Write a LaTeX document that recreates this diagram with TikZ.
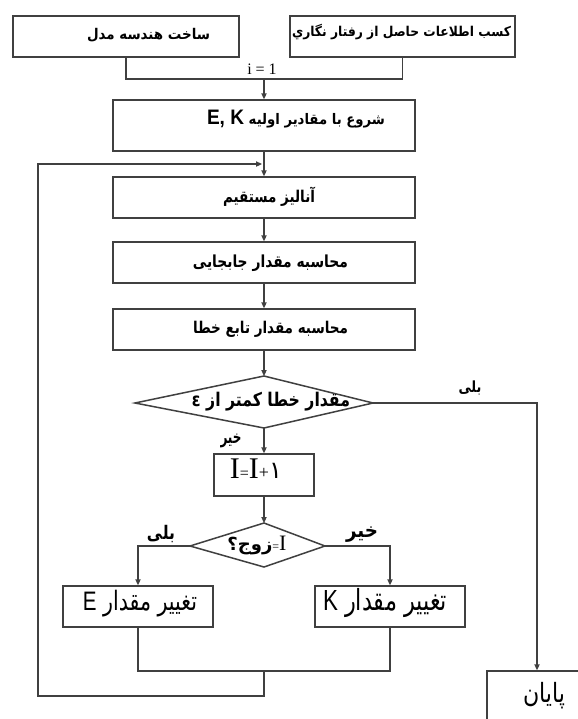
\documentclass[tikz,border=0pt]{standalone}
\usepackage{fontspec}
\usepackage{graphicx}
\setmainfont{Liberation Serif}
\newfontfamily\arabicfont[Script=Arabic]{DejaVu Sans}
\newfontfamily\lsans{Liberation Sans}
\TeXXeTstate=1
\usetikzlibrary{arrows.meta}
\newcommand{\txs}[3]{\scalebox{1}[#2]{\resizebox{#1}{!}{#3}}}
\begin{document}
\begin{tikzpicture}[x=0.5pt,y=-0.5pt,
  ln/.style={draw=black!75, line width=0.75pt},
  arr/.style={ln, -{Triangle[length=3pt,width=2.6pt]}},
  box/.style={ln, rectangle, inner sep=0pt, fill=white},
  txt/.style={inner sep=0pt, text=black, anchor=base}]
\useasboundingbox (0,0) rectangle (578,719);
\fill[white] (0,0) rectangle (578,719);
% boxes
\node[box, minimum width=113pt, minimum height=20.5pt] (b1) at (126,36.5) {};
\node[box, minimum width=112.5pt, minimum height=20.5pt] (b2) at (402.5,36.5) {};
\node[box, minimum width=151pt, minimum height=25.5pt] (st) at (264,125.5) {};
\node[box, minimum width=151pt, minimum height=20.5pt] (an) at (264,197.5) {};
\node[box, minimum width=151pt, minimum height=20.5pt] (jb) at (264,262.5) {};
\node[box, minimum width=151pt, minimum height=20.5pt] (er) at (264,329.5) {};
\node[box, minimum width=50pt, minimum height=21pt] (inc) at (264,475) {};
\node[box, minimum width=75pt, minimum height=20.5pt] (eb) at (138,606.5) {};
\node[box, minimum width=75pt, minimum height=20.5pt] (kb) at (390,606.5) {};
\node[box, minimum width=50pt, minimum height=35pt] (en) at (537,706) {};
% diamonds
\coordinate (d1t) at (264,376); \coordinate (d1r) at (373,403);
\coordinate (d1b) at (264,428); \coordinate (d1l) at (135,403);
\draw[ln] (d1t) -- (d1r) -- (d1b) -- (d1l) -- cycle;
\coordinate (d2t) at (264,523); \coordinate (d2r) at (325,546);
\coordinate (d2b) at (264,567); \coordinate (d2l) at (190,546);
\draw[ln] (d2t) -- (d2r) -- (d2b) -- (d2l) -- cycle;
% texts
\node[txt] (tb1) at (148.5,39) {\txs{61.5pt}{1.1}{\arabicfont\bfseries\beginR ساخت هندسه مدل\endR}};
\node[txt] (tb2) at (401.5,36) {\txs{109.5pt}{1.1}{\arabicfont\bfseries\beginR کسب اطلاعات حاصل از رفتار نگاري\endR}};
\node[txt] (tst) at (296,124) {\txs{89pt}{1.1}{\arabicfont\bfseries\beginR شروع با مقادیر اولیه \beginL{\lsans\bfseries\Large E, K}\endL\endR}};
\node[txt] (tan) at (269,202) {\txs{46pt}{1.2}{\arabicfont\bfseries\beginR آنالیز مستقیم\endR}};
\node[txt] (tjb) at (270.5,267) {\txs{77.5pt}{1.2}{\arabicfont\bfseries\beginR محاسبه مقدار جابجایی\endR}};
\node[txt] (ter) at (270.5,333) {\txs{77.5pt}{1.2}{\arabicfont\bfseries\beginR محاسبه مقدار تابع خطا\endR}};
\node[txt] (td1) at (271,406) {\txs{79pt}{1.2}{\arabicfont\bfseries\beginR مقدار خطا کمتر از ε\endR}};
\node[txt] (tinc) at (256,478) {\fontsize{15}{15}\selectfont I\fontsize{8}{8}\selectfont=\fontsize{15}{15}\selectfont I\fontsize{9}{9}\selectfont+{\arabicfont\fontsize{12}{12}\selectfont ۱}};
\node[txt] (td2) at (257,550) {{\arabicfont\bfseries\fontsize{9}{9}\selectfont\beginR زوج؟\endR}{\fontsize{6}{6}\selectfont=}{\fontsize{11}{11}\selectfont I}};
\node[txt] (teb) at (140,610) {\txs{57pt}{1.3}{\arabicfont\beginR تغییر مقدار {\lsans E}\endR}};
\node[txt] (tkb) at (385,610) {\txs{62pt}{1.3}{\arabicfont\beginR تغییر مقدار {\lsans K}\endR}};
\node[txt] (ten) at (544,702) {\txs{21pt}{1.2}{\arabicfont\beginR پایان\endR}};
\node[txt] (l1) at (470,392) {\txs{11.5pt}{1.2}{\arabicfont\bfseries\beginR بلی\endR}};
\node[txt] (l2) at (231,443) {\txs{10.5pt}{1.5}{\arabicfont\bfseries\beginR خیر\endR}};
\node[txt] (l3) at (161,539) {\txs{14pt}{1.2}{\arabicfont\bfseries\beginR بلی\endR}};
\node[txt] (l4) at (362,537) {\txs{16pt}{1.1}{\arabicfont\bfseries\beginR خیر\endR}};
\node[txt] (i1) at (262,74) {\fontsize{8}{8}\selectfont i = 1};
% connectors
\coordinate (j1) at (264,79);
\draw[ln] (b1.south) |- (j1) -| (b2.south);
\draw[arr] (j1) -- (j1 |- st.north);
\draw[arr] (st.south) -- (an.north);
\draw[arr] (an.south) -- (jb.north);
\draw[arr] (jb.south) -- (er.north);
\draw[arr] (er.south) -- (d1t);
\draw[arr] (d1r) -| (en.north);
\draw[arr] (d1b) -- (inc.north);
\draw[arr] (inc.south) -- (d2t);
\draw[arr] (d2l) -| (eb.north);
\draw[arr] (d2r) -| (kb.north);
\coordinate (j2) at (264,671);
\draw[ln] (eb.south) |- (j2) -| (kb.south);
\coordinate (lb) at (264,696);
\coordinate (lt) at (38,164);
\coordinate (lp) at (262,164);
\draw[arr] (j2) -- (lb) -| (lt) -- (lp);
\end{tikzpicture}
\end{document}
